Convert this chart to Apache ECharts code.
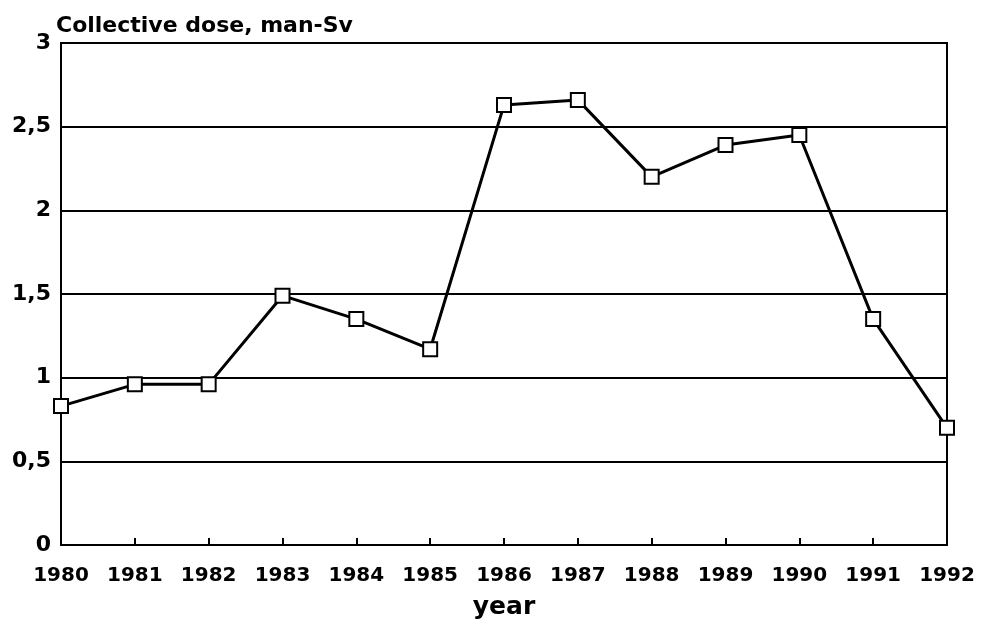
<!DOCTYPE html>
<html>
<head>
<meta charset="utf-8">
<script src="https://cdn.jsdelivr.net/npm/echarts@6/dist/echarts.min.js"></script>
<style>
  html, body { margin: 0; padding: 0; background: #fff; }
  #chart { width: 987px; height: 624px; }
</style>
</head>
<body>
<div id="chart"></div>
<script>
// years on the x axis
const years = ['1980', '1981', '1982', '1983', '1984', '1985', '1986',
  '1987', '1988', '1989', '1990', '1991', '1992'];
// collective dose, man-Sv
const dose = [0.83, 0.96, 0.96, 1.49, 1.35, 1.17, 2.63, 2.66, 2.2, 2.39, 2.45, 1.35, 0.7];

const font = 'DejaVu Sans';

const myChart = echarts.init(document.getElementById('chart'));
const option = {
  backgroundColor: '#fff',
  animation: false,
  title: {
    text: 'Collective dose, man-Sv',
    left: 51,
    top: 10,
    textStyle: { fontFamily: font, fontWeight: 'bold', fontSize: 22, color: '#000' }
  },
  grid: {
    left: 61, right: 40, top: 43, bottom: 79,
    outerBoundsMode: 'none',
    show: true, borderColor: '#000', borderWidth: 2
  },
  xAxis: {
    type: 'category',
    data: years,
    boundaryGap: false,
    name: 'year',
    nameLocation: 'middle',
    nameGap: 50,
    nameTextStyle: { fontFamily: font, fontWeight: 'bold', fontSize: 25, color: '#000' },
    axisLine: { lineStyle: { color: '#000', width: 2 } },
    axisTick: { inside: true, length: 7, interval: 0, lineStyle: { color: '#000', width: 2 } },
    axisLabel: { interval: 0, fontFamily: font, fontWeight: 'bold', fontSize: 20, color: '#000', margin: 21 },
    splitLine: { show: false }
  },
  yAxis: {
    type: 'value',
    min: 0, max: 3, interval: 0.5,
    axisLine: { show: true, lineStyle: { color: '#000', width: 2 } },
    axisTick: { show: false },
    axisLabel: {
      fontFamily: font, fontWeight: 'bold', fontSize: 22, color: '#000', margin: 10,
      formatter: v => String(v).replace('.', ',')
    },
    splitLine: { lineStyle: { color: '#000', width: 2 } }
  },
  series: [{
    type: 'line',
    data: dose,
    symbol: 'rect',
    symbolSize: 14,
    lineStyle: { color: '#000', width: 3 },
    itemStyle: { color: '#fff', borderColor: '#000', borderWidth: 2 }
  }]
};
option && myChart.setOption(option);
</script>
</body>
</html>
